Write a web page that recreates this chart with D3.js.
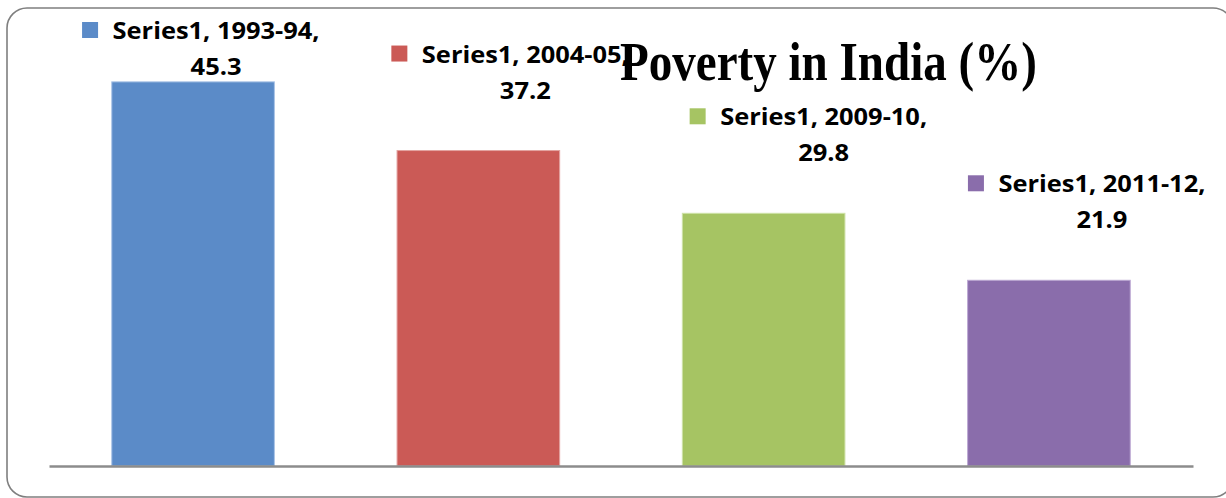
<!DOCTYPE html>
<html>
<head>
<meta charset="utf-8">
<script src="https://cdn.jsdelivr.net/npm/d3@7"></script>
<style>
  html, body { margin: 0; padding: 0; background: #ffffff; }
  svg { display: block; }
</style>
</head>
<body>
<svg id="chart" width="1226" height="498"></svg>
<script>
// Poverty headcount ratio in India, by survey year (%)
const seriesName = "Series1";
const years = ["1993-94", "2004-05", "2009-10", "2011-12"];
const poverty = [45.3, 37.2, 29.8, 21.9];
const barColors = ["#5B8BC8", "#CB5A56", "#A6C463", "#8A6DAB"];
const edgeColors = ["#A9C3E6", "#E3A3A0", "#CFE2A8", "#BBA7D2"];
const yDomain = [0, 50];

// Horizontal shift of each data label block relative to its bar centre
const labelShift = [23, 47, 60, 53];

const width = 1226, height = 498;
const svg = d3.select("#chart");

// Chart frame: rounded border that runs past the right edge
svg.append("rect")
  .attr("x", 7).attr("y", 8)
  .attr("width", 1226).attr("height", 489)
  .attr("rx", 20).attr("ry", 20)
  .attr("fill", "#ffffff")
  .attr("stroke", "#7F7F7F")
  .attr("stroke-width", 1.6);

const plot = { left: 49, right: 1193, top: 42, bottom: 466 };

const x = d3.scaleBand()
  .domain(years)
  .range([plot.left, plot.right])
  .paddingInner(0.43)
  .paddingOuter(0.22);

const y = d3.scaleLinear()
  .domain(yDomain)
  .range([plot.bottom, plot.top]);

// Bars
svg.append("g")
  .selectAll("rect")
  .data(years)
  .join("rect")
  .attr("x", d => x(d))
  .attr("y", (d, i) => y(poverty[i]))
  .attr("width", x.bandwidth())
  .attr("height", (d, i) => y(0) - y(poverty[i]))
  .attr("fill", (d, i) => barColors[i])
  .attr("stroke", (d, i) => edgeColors[i])
  .attr("stroke-width", 1);

// Category axis line (no ticks or labels)
const xAxis = d3.axisBottom(x).tickSize(0).tickFormat("");
const axisG = svg.append("g")
  .attr("transform", `translate(0,${plot.bottom})`)
  .call(xAxis);
axisG.select(".domain")
  .attr("stroke", "#8C8C8C")
  .attr("stroke-width", 2.5);

// Data labels: legend key + "Series1, year," on the first line, value below
const labelFont = "'Open Sans', Lato, 'DejaVu Sans', sans-serif";
const labels = svg.append("g")
  .selectAll("g")
  .data(years)
  .join("g")
  .attr("transform", (d, i) => {
    const cx = x(d) + x.bandwidth() / 2 + labelShift[i];
    const base = Math.max(y(poverty[i]) - 88, 39);
    return `translate(${cx},${base})`;
  });

labels.append("text")
  .attr("text-anchor", "middle")
  .attr("font-family", labelFont)
  .attr("font-weight", "bold")
  .attr("font-size", 24)
  .attr("fill", "#000000")
  .attr("textLength", 207)
  .attr("lengthAdjust", "spacingAndGlyphs")
  .text(d => `${seriesName}, ${d},`);

labels.append("text")
  .attr("text-anchor", "middle")
  .attr("y", 36)
  .attr("font-family", labelFont)
  .attr("font-weight", "bold")
  .attr("font-size", 24)
  .attr("fill", "#000000")
  .attr("textLength", 51)
  .attr("lengthAdjust", "spacingAndGlyphs")
  .text((d, i) => poverty[i].toFixed(1));

labels.append("rect")
  .attr("x", -104 - 14 - 16)
  .attr("y", -17)
  .attr("width", 16)
  .attr("height", 16)
  .attr("fill", (d, i) => barColors[i]);

// Title
svg.append("text")
  .attr("x", 620)
  .attr("y", 80)
  .attr("font-family", "'Liberation Serif', 'Times New Roman', serif")
  .attr("font-weight", "bold")
  .attr("font-size", 54)
  .attr("fill", "#000000")
  .attr("textLength", 417)
  .attr("lengthAdjust", "spacingAndGlyphs")
  .text("Poverty in India (%)");
</script>
</body>
</html>
